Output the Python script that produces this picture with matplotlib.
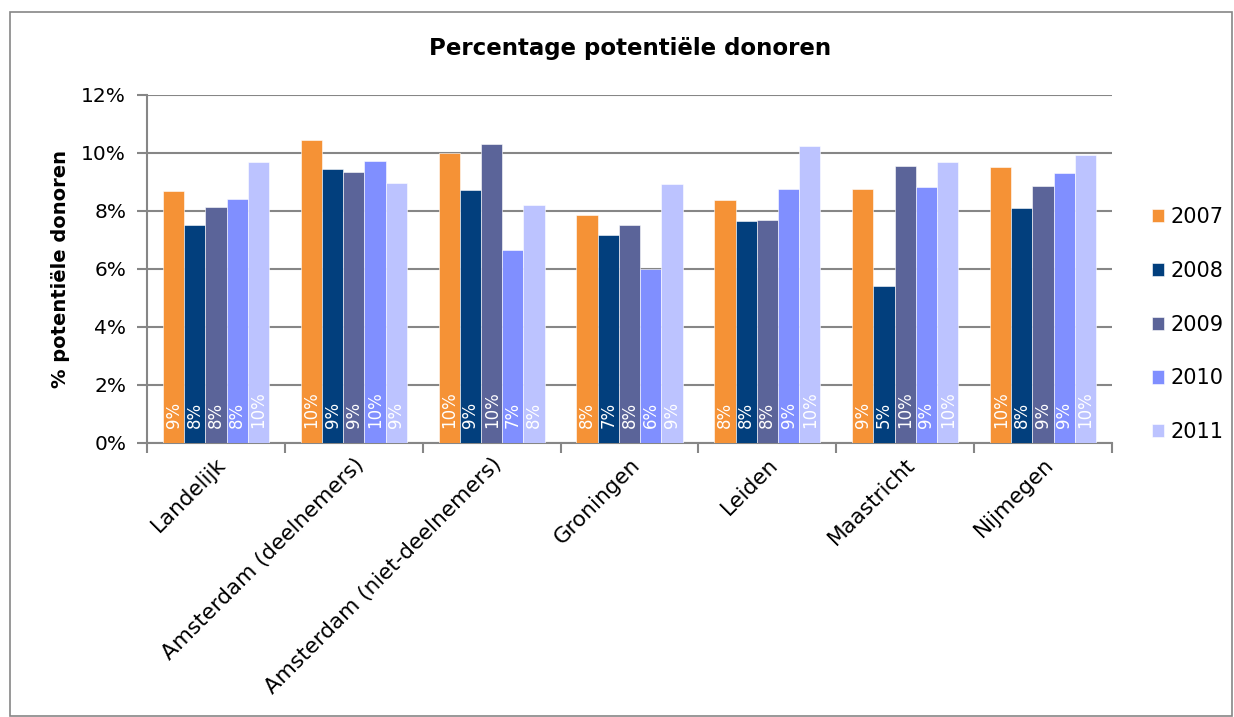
import matplotlib
matplotlib.use("Agg")

import matplotlib.pyplot as plt
import numpy as np
from matplotlib.patches import Rectangle
from matplotlib.ticker import FuncFormatter, FixedLocator

# Percentage potentiële donoren per meetpunt en jaar
categorieen = ["Landelijk", "Amsterdam (deelnemers)", "Amsterdam (niet-deelnemers)",
               "Groningen", "Leiden", "Maastricht", "Nijmegen"]
jaren = ["2007", "2008", "2009", "2010", "2011"]
waarden = {
    "2007": [8.69, 10.45, 10.00, 7.85, 8.37, 8.77, 9.52],
    "2008": [7.52, 9.44, 8.74, 7.18, 7.67, 5.41, 8.11],
    "2009": [8.14, 9.36, 10.30, 7.51, 7.70, 9.54, 8.85],
    "2010": [8.43, 9.71, 6.64, 6.01, 8.77, 8.84, 9.30],
    "2011": [9.70, 8.98, 8.22, 8.93, 10.23, 9.70, 9.93],
}
kleuren = ["#F59236", "#023F7D", "#5B6499", "#808FFF", "#BCC3FF"]

W, H = 1234, 717
fig = plt.figure(figsize=(W / 100, H / 100), dpi=100)
fig.patch.set_facecolor("white")

# kader rond de hele grafiek
fig.patches.append(Rectangle((10 / W, 1 / H), (W - 12) / W, (H - 13) / H,
                             transform=fig.transFigure, fill=False,
                             edgecolor="#868686", lw=1.2))

ax = fig.add_axes([147 / W, (H - 443) / H, (1112 - 147) / W, (443 - 95) / H])

n = len(jaren)
breedte = 1 / (n + 1.5)
x = np.arange(len(categorieen))
for i, (jaar, kleur) in enumerate(zip(jaren, kleuren)):
    pos = x - 0.5 + breedte * 0.75 + breedte * (i + 0.5)
    ax.bar(pos, waarden[jaar], width=breedte, color=kleur, label=jaar,
           edgecolor="white", linewidth=0.4, zorder=3)
    for px, v in zip(pos, waarden[jaar]):
        ax.text(px, 0.52, f"{v:.0f}%", rotation=90, ha="center", va="bottom",
                color="white", fontsize=12, zorder=4)

ax.set_xlim(-0.5, len(categorieen) - 0.5)
ax.set_ylim(0, 12)
ax.set_yticks(np.arange(0, 13, 2))
ax.yaxis.set_major_formatter(FuncFormatter(lambda v, _: f"{v:.0f}%"))
ax.yaxis.grid(True, color="#868686", lw=1.5, zorder=0)
ax.set_axisbelow(True)

ax.set_xticks(x)
ax.set_xticklabels(categorieen, rotation=45, ha="right", rotation_mode="anchor",
                   fontsize=15.5)
ax.xaxis.set_minor_locator(FixedLocator(np.arange(-0.5, len(categorieen), 1)))
ax.tick_params(axis="x", which="major", length=0, pad=8)
ax.tick_params(axis="x", which="minor", length=7, color="#868686", width=1.5)
ax.tick_params(axis="y", length=7, color="#868686", width=1.5, labelsize=14.5, pad=8)

for s in ["top", "right"]:
    ax.spines[s].set_visible(False)
for s in ["left", "bottom"]:
    ax.spines[s].set_color("#868686")
    ax.spines[s].set_linewidth(1.5)

ax.set_ylabel("% potentiële donoren", fontsize=14, fontweight="bold", labelpad=8)
fig.text(630 / W, 1 - 48 / H, "Percentage potentiële donoren", ha="center",
         va="center", fontsize=16.5, fontweight="bold")

ax.legend(loc="center left", bbox_to_anchor=(1.022, 0.34), frameon=False,
          fontsize=15, handlelength=0.6, handleheight=0.6, handletextpad=0.3,
          labelspacing=1.62)

fig.savefig("out.png", dpi=100)
